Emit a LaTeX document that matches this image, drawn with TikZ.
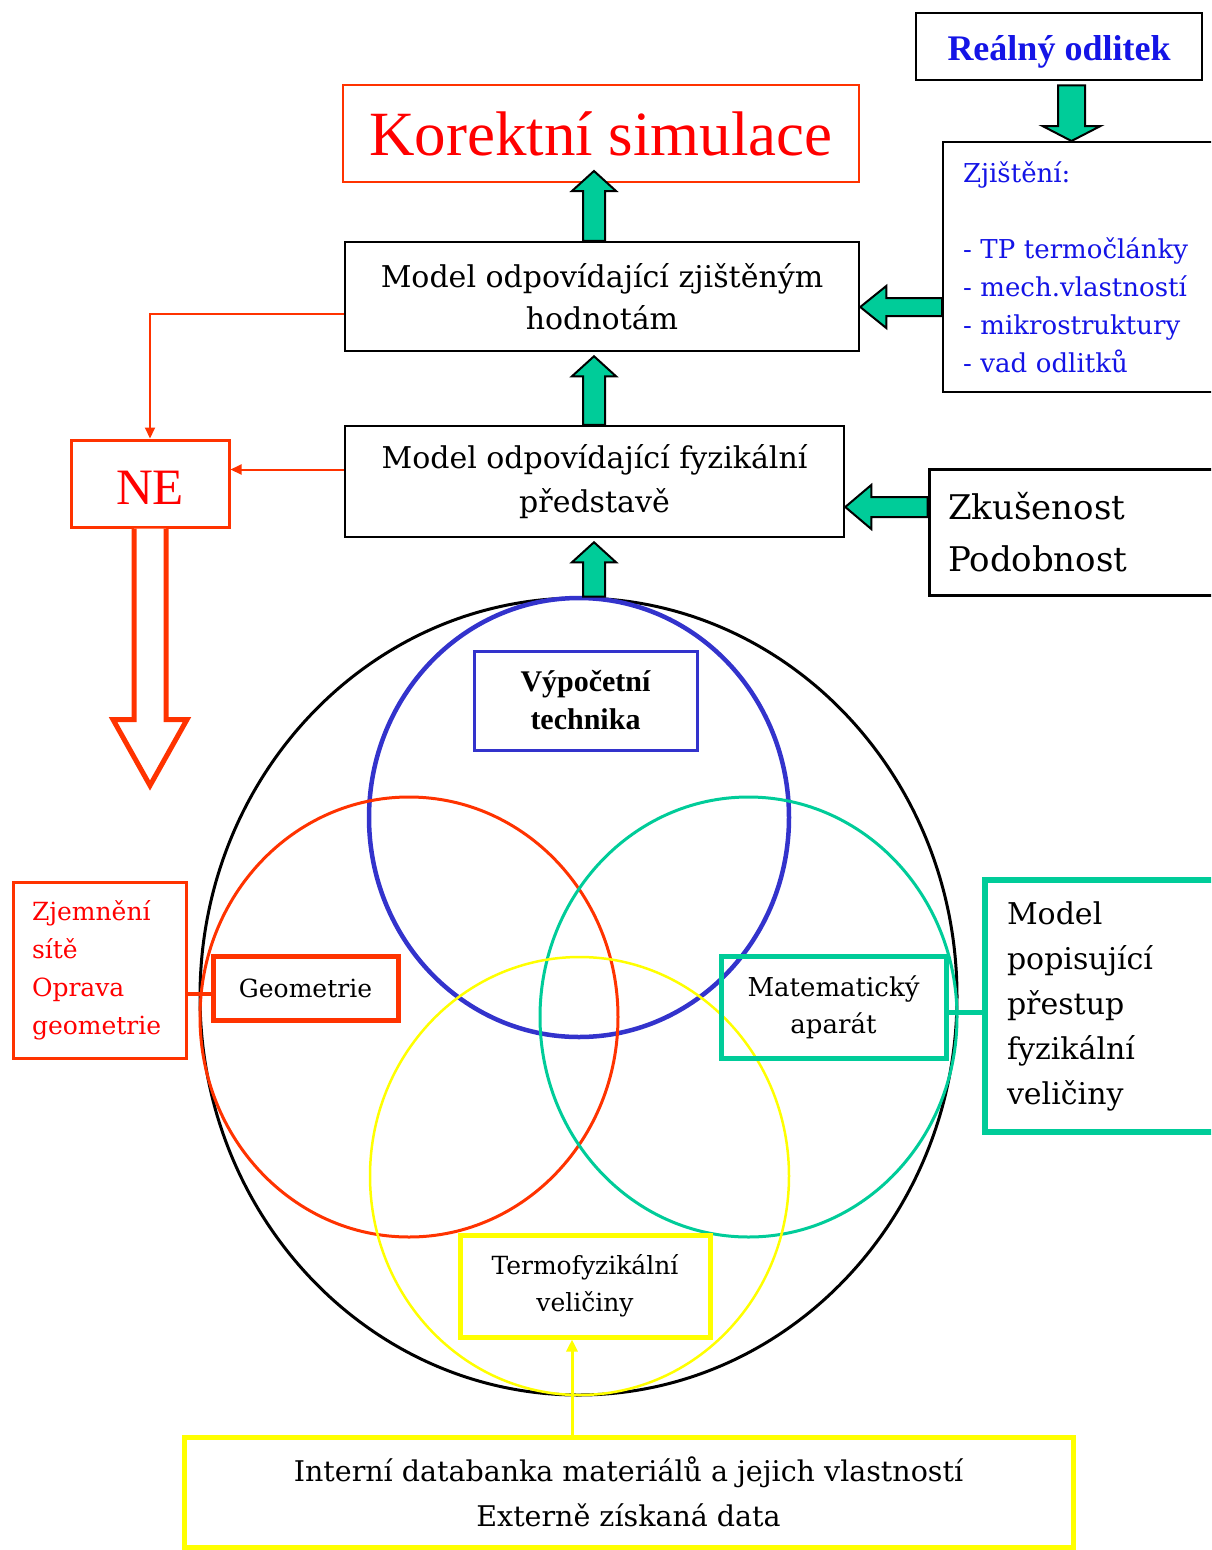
\documentclass[tikz,border=0pt]{standalone}
\usepackage{fontspec}
\setmainfont{DejaVu Serif}
\newfontfamily\timesf{Liberation Serif}
\usetikzlibrary{calc,shapes.geometric,arrows.meta}
\definecolor{tg}{RGB}{0,204,153}
\definecolor{tred}{RGB}{255,51,0}
\definecolor{rtext}{RGB}{255,0,0}
\definecolor{tblue}{RGB}{51,51,204}
\definecolor{btext}{RGB}{20,20,230}
\definecolor{tyel}{RGB}{255,255,0}
\newcommand\gup[5]{\filldraw[garrow] let \p1=(#1), \p2=(#2) in (\x1-#3,\y1) -- (\x1-#3,\y2-#5) -- (\x1-#4,\y2-#5) -- (\x1,\y2) -- (\x1+#4,\y2-#5) -- (\x1+#3,\y2-#5) -- (\x1+#3,\y1) -- cycle;}
\newcommand\gdown[5]{\filldraw[garrow] let \p1=(#1), \p2=(#2) in (\x1-#3,\y1) -- (\x1-#3,\y2+#5) -- (\x1-#4,\y2+#5) -- (\x1,\y2) -- (\x1+#4,\y2+#5) -- (\x1+#3,\y2+#5) -- (\x1+#3,\y1) -- cycle;}
\newcommand\gleft[5]{\filldraw[garrow] let \p1=(#1), \p2=(#2) in (\x1,\y1+#3) -- (\x2+#5,\y1+#3) -- (\x2+#5,\y1+#4) -- (\x2,\y1) -- (\x2+#5,\y1-#4) -- (\x2+#5,\y1-#3) -- (\x1,\y1-#3) -- cycle;}
\tikzset{
  garrow/.style={fill=tg, draw=black, line width=2pt, line join=miter},
  box/.style={draw, rectangle, inner sep=0pt, align=center},
  lbox/.style={draw, rectangle, inner ysep=0pt, align=left},
  ring/.style={draw, ellipse, inner sep=0pt},
  redline/.style={tred, line width=2pt},
}
\begin{document}
\begin{tikzpicture}[x=1pt,y=-1pt]
\useasboundingbox (0,0) rectangle (1211,1550);
\clip (0,0) rectangle (1211,1550);
\fill[white] (0,0) rectangle (1211,1550);

% circles
\node[ring, black, line width=3pt, minimum width=757pt, minimum height=797pt] (bc) at (578.5,996.5) {};
\node[ring, tblue, line width=4.5pt, minimum width=420pt, minimum height=439pt] (cb) at (579,817.5) {};
\node[ring, tred, line width=3pt, minimum width=418pt, minimum height=440pt] (cr) at (409,1017) {};
\node[ring, tg, line width=3pt, minimum width=417pt, minimum height=440pt] (cg) at (748.5,1017) {};
\node[ring, tyel, line width=2.5pt, minimum width=419pt, minimum height=438pt] (cy) at (579.5,1176) {};

% boxes
\node[box, draw=tred, line width=2pt, minimum width=516pt, minimum height=97pt, text=rtext,
  font=\timesf\fontsize{63}{70}\selectfont] (kor) at (601,133.5) {Korektní simulace};
\node[box, line width=2.5pt, minimum width=286pt, minimum height=67pt, text=btext,
  font=\timesf\bfseries\fontsize{36}{40}\selectfont] (real) at (1059,46.5) {\raisebox{-5pt}[\height][\depth]{Reálný odlitek}};
\node[lbox, line width=2pt, minimum height=250pt, inner xsep=20pt, text width=237pt, text=btext,
  font=\fontsize{26}{38}\selectfont] (zji) at (1081.5,267) {Zjištění:\\[38pt]- TP termočlánky\\- mech.vlastností\\- mikrostruktury\\- vad odlitků};
\node[box, line width=2.5pt, minimum width=514pt, minimum height=109pt,
  font=\fontsize{30}{42}\selectfont] (m1) at (602,296.5) {Model odpovídající zjištěným\\hodnotám};
\node[box, line width=2.5pt, minimum width=499pt, minimum height=111pt,
  font=\fontsize{30}{44}\selectfont] (m2) at (594.5,481.5) {Model odpovídající fyzikální\\představě};
\node[lbox, line width=3pt, minimum height=126pt, inner xsep=19pt, text width=253pt,
  font=\fontsize{34}{52}\selectfont] (zk) at (1074.5,532) {Zkušenost\\Podobnost};
\node[box, draw=tred, line width=3pt, minimum width=158pt, minimum height=87pt, text=rtext,
  font=\timesf\fontsize{51}{56}\selectfont] (ne) at (150,483.5) {\raisebox{-4pt}[\height][\depth]{NE}};
\node[box, draw=tblue, line width=3pt, minimum width=223pt, minimum height=99pt,
  font=\timesf\bfseries\fontsize{30}{38}\selectfont] (vyp) at (585.5,700.5) {Výpočetní\\technika};
\node[box, draw=tred, line width=5pt, minimum width=185pt, minimum height=64pt,
  font=\fontsize{25}{38}\selectfont] (geo) at (305.5,988) {Geometrie};
\node[lbox, draw=tred, line width=3pt, minimum height=176pt, inner xsep=19pt, text width=135pt, text=rtext,
  font=\fontsize{25}{38}\selectfont] (zje) at (99.5,970) {Zjemnění\\sítě\\Oprava\\geometrie};
\node[box, draw=tg, line width=5pt, minimum width=225pt, minimum height=102pt,
  font=\fontsize{26}{37}\selectfont] (mat) at (833.5,1007) {Matematický\\aparát};
\node[lbox, draw=tg, line width=6pt, minimum height=252pt, inner xsep=22pt, text width=191pt,
  font=\fontsize{30}{45}\selectfont] (mp) at (1102.5,1006) {Model\\popisující\\přestup\\fyzikální\\veličiny};
\node[box, draw=tyel, line width=5pt, minimum width=250pt, minimum height=102pt,
  font=\fontsize{25}{37}\selectfont] (term) at (585,1286) {Termofyzikální\\veličiny};
\node[box, draw=tyel, line width=5pt, minimum width=889pt, minimum height=110pt,
  font=\fontsize{28.5}{45}\selectfont] (intr) at (628.5,1492) {Interní databanka materiálů a jejich vlastností\\Externě získaná data};

% helper coordinates
\coordinate (ax) at (594,0);
\coordinate (dx) at (1071.5,0);
\coordinate (yA) at (0,307);
\coordinate (yB) at (0,507);
\coordinate (tx) at (572,0);

% green block arrows
\gup{ax |- m1.north}{$(ax |- kor.south)+(0,-12)$}{11pt}{22pt}{20pt}
\gup{ax |- m2.north}{$(ax |- m1.south)+(0,4)$}{11pt}{22pt}{20pt}
\gup{ax |- bc.north}{$(ax |- m2.south)+(0,4)$}{11pt}{22pt}{20pt}
\gdown{$(dx |- real.south)+(0,4)$}{dx |- zji.north}{13.5pt}{29pt}{15pt}
\gleft{zji.west |- yA}{m1.east |- yA}{9pt}{21pt}{26pt}
\gleft{zk.west |- yB}{m2.east |- yB}{10pt}{22pt}{26pt}

% red connectors
\coordinate (r1) at ($(m1.west)+(0,17)$);
\coordinate (r2) at ($(m2.west)+(0,-12)$);
\draw[redline, -{Triangle[length=11pt,width=10pt]}] (r1) -| (ne.north);
\draw[redline, -{Triangle[length=11pt,width=10pt]}] (r2) -- (r2 -| ne.east);
\draw[tred, line width=4pt] (zje.east |- 0,994) -- (geo.west |- 0,994);
\draw[tg, line width=5pt] (mat.east |- 0,1012) -- (mp.west |- 0,1012);

% hollow red arrow
\draw[tred, line width=5pt, fill=white, line join=miter] let \p1=(ne.south) in
  (\x1-16pt,\y1) -- (\x1-16pt,\y1-191pt) -- (\x1-37pt,\y1-191pt) -- (\x1,\y1-257pt)
  -- (\x1+37pt,\y1-191pt) -- (\x1+16pt,\y1-191pt) -- (\x1+16pt,\y1);

% yellow arrow
\draw[tyel, line width=3pt, -{Triangle[length=12pt,width=11pt]}] (tx |- intr.north) -- (tx |- term.south);
\end{tikzpicture}
\end{document}
